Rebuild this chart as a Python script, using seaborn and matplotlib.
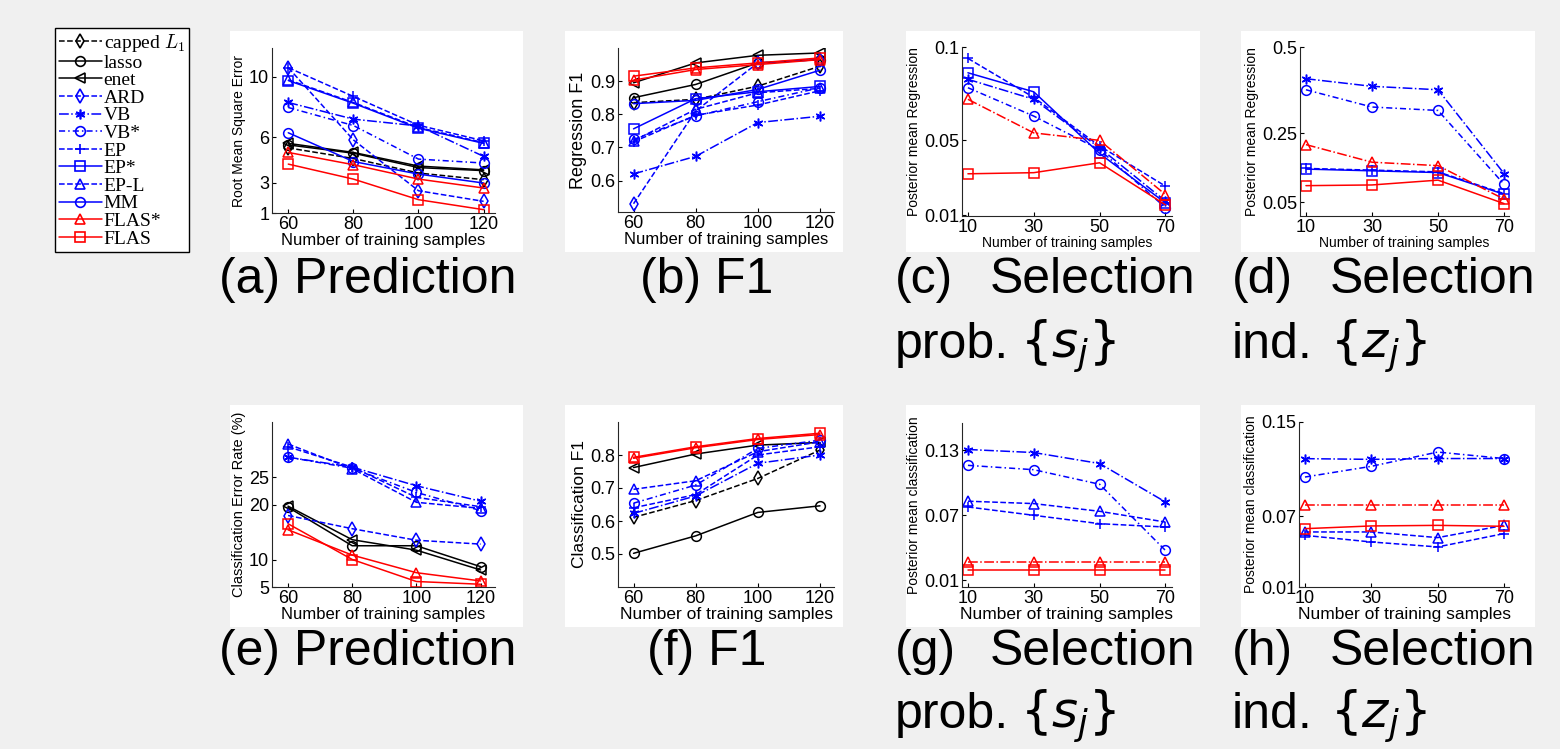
import matplotlib
matplotlib.use('Agg')
import matplotlib.pyplot as plt
from matplotlib.lines import Line2D
from matplotlib.patches import Rectangle
import pandas as pd
import seaborn as sns

sns.set_style('ticks')
plt.rcParams['font.family'] = ['Liberation Sans', 'DejaVu Sans']
plt.rcParams['axes.edgecolor'] = '#262626'
plt.rcParams['text.color'] = 'black'
plt.rcParams['axes.labelcolor'] = 'black'
plt.rcParams['xtick.color'] = 'black'
plt.rcParams['ytick.color'] = 'black'

W, H = 1560, 749

# ---- methods and their look ----
methods = ['capped $L_1$', 'lasso', 'enet', 'ARD', 'VB', 'VB*', 'EP', 'EP*',
           'EP-L', 'MM', 'FLAS*', 'FLAS']
colors = ['black', 'black', 'black', 'blue', 'blue', 'blue', 'blue', 'blue',
          'blue', 'blue', 'red', 'red']
markers = ['d', 'o', '<', 'd', (6, 2, 0), 'o', '+', 's', '^', 'o', '^', 's']
lines = ['--', '-', '-', '--', '-.', (0, (4, 2, 1, 2)), '--', '-', '--', '-', '-', '-']

x_reg = [60, 80, 100, 120]
x_sel = [10, 30, 50, 70]

# ---- (a) regression RMSE ----
rmse = {
    'capped $L_1$': [5.3, 4.6, 3.64, 3.2],
    'lasso': [5.5, 4.95, 4.0, 3.8],
    'enet': [5.6, 5.0, 4.1, 3.85],
    'ARD': [10.6, 5.83, 2.47, 1.77],
    'VB': [8.3, 7.2, 6.75, 4.74],
    'VB*': [7.97, 6.78, 4.56, 4.3],
    'EP': [10.6, 8.7, 6.8, 5.77],
    'EP*': [9.75, 8.25, 6.6, 5.6],
    'EP-L': [9.8, 8.3, 6.65, 5.65],
    'MM': [6.3, 4.4, 3.57, 2.98],
    'FLAS*': [5.0, 4.19, 3.24, 2.65],
    'FLAS': [4.23, 3.24, 1.88, 1.22],
}

# ---- (b) regression F1 ----
reg_f1 = {
    'capped $L_1$': [0.835, 0.845, 0.885, 0.945],
    'lasso': [0.85, 0.89, 0.955, 0.965],
    'enet': [0.895, 0.955, 0.978, 0.985],
    'ARD': [0.53, 0.81, 0.955, 0.965],
    'VB': [0.62, 0.673, 0.775, 0.794],
    'VB*': [0.724, 0.795, 0.838, 0.88],
    'EP': [0.717, 0.797, 0.828, 0.871],
    'EP*': [0.756, 0.847, 0.868, 0.884],
    'EP-L': [0.72, 0.815, 0.865, 0.878],
    'MM': [0.832, 0.842, 0.875, 0.933],
    'FLAS*': [0.903, 0.935, 0.95, 0.965],
    'FLAS': [0.915, 0.94, 0.955, 0.97],
}

# ---- (c) posterior mean of s_j, regression ----
reg_s = {
    'VB': [0.0827, 0.072, 0.046, 0.0175],
    'VB*': [0.0782, 0.063, 0.045, 0.014],
    'EP': [0.0939, 0.073, 0.047, 0.0255],
    'EP*': [0.0862, 0.076, 0.043, 0.0165],
    'FLAS*': [0.072, 0.054, 0.050, 0.021],
    'FLAS': [0.0321, 0.0327, 0.038, 0.0155],
}

# ---- (d) posterior mean of z_j, regression ----
reg_z = {
    'VB': [0.408, 0.386, 0.376, 0.133],
    'VB*': [0.376, 0.326, 0.316, 0.102],
    'EP': [0.148, 0.143, 0.138, 0.075],
    'EP*': [0.146, 0.141, 0.136, 0.073],
    'FLAS*': [0.217, 0.166, 0.156, 0.059],
    'FLAS': [0.098, 0.10, 0.114, 0.046],
}

# ---- (e) classification error rate ----
cls_err = {
    'lasso': [19.5, 12.5, 12.5, 8.7],
    'enet': [19.7, 13.6, 11.7, 8.1],
    'ARD': [18.0, 15.6, 13.5, 12.8],
    'VB': [28.6, 26.8, 23.4, 20.6],
    'VB*': [28.6, 26.6, 22.2, 18.9],
    'EP': [30.5, 26.8, 21.3, 19.6],
    'EP-L': [31.0, 26.5, 20.4, 19.3],
    'FLAS*': [15.4, 10.8, 7.6, 6.1],
    'FLAS': [16.5, 10.0, 6.0, 5.5],
}

# ---- (f) classification F1 ----
cls_f1 = {
    'capped $L_1$': [0.611, 0.662, 0.729, 0.815],
    'lasso': [0.502, 0.555, 0.626, 0.646],
    'enet': [0.762, 0.803, 0.830, 0.838],
    'VB': [0.623, 0.676, 0.775, 0.80],
    'VB*': [0.654, 0.709, 0.82, 0.845],
    'EP': [0.64, 0.68, 0.80, 0.825],
    'EP-L': [0.696, 0.722, 0.81, 0.84],
    'FLAS*': [0.79, 0.822, 0.847, 0.862],
    'FLAS': [0.793, 0.825, 0.85, 0.866],
}

# ---- (g) posterior mean of s_j, classification ----
cls_s = {
    'VB': [0.1306, 0.1278, 0.1177, 0.0823],
    'VB*': [0.116, 0.112, 0.0986, 0.0377],
    'EP': [0.0777, 0.070, 0.0623, 0.0592],
    'EP-L': [0.083, 0.0808, 0.0737, 0.0638],
    'FLAS*': [0.027, 0.027, 0.027, 0.027],
    'FLAS': [0.0198, 0.0198, 0.0198, 0.0198],
}

# ---- (h) posterior mean of z_j, classification ----
cls_z = {
    'VB': [0.1189, 0.1183, 0.119, 0.119],
    'VB*': [0.1033, 0.1124, 0.1245, 0.119],
    'EP': [0.0538, 0.0482, 0.044, 0.0553],
    'EP-L': [0.0567, 0.0567, 0.0519, 0.0623],
    'FLAS*': [0.0799, 0.0799, 0.0799, 0.0799],
    'FLAS': [0.0595, 0.0618, 0.0623, 0.0615],
}

ylabels = ['Root Mean Square Error', 'Regression F1', 'Posterior mean Regression',
           'Posterior mean Regression', 'Classification Error Rate (%)',
           'Classification F1', 'Posterior mean classification',
           'Posterior mean classification']
yticks = [[1, 3, 6, 10], [0.6, 0.7, 0.8, 0.9], [0.01, 0.05, 0.1], [0.05, 0.25, 0.5],
          [5, 10, 20, 25], [0.5, 0.6, 0.7, 0.8], [0.01, 0.07, 0.13], [0.01, 0.07, 0.15]]
ytick_labels = [['1', '3', '6', '10'], ['0.6', '0.7', '0.8', '0.9'],
                ['0.01', '0.05', '0.1'], ['0.05', '0.25', '0.5'],
                ['5', '10', '20', '25'], ['0.5', '0.6', '0.7', '0.8'],
                ['0.01', '0.07', '0.13'], ['0.01', '0.07', '0.15']]

# layout in pixels: axes box (left, top, right, bottom), white card, limits
panels = [
    dict(data=rmse, x=x_reg, ax=(272, 48, 495, 213), card=(230, 31, 523, 252),
         xlim=(55, 123.5), ylim=(1, 11.9), xl=12, yl=10),
    dict(data=reg_f1, x=x_reg, ax=(618, 48, 834, 212), card=(565, 31, 843, 252),
         xlim=(55, 124.5), ylim=(0.505, 1.0), xl=12, yl=13),
    dict(data=reg_s, x=x_sel, ax=(962, 47, 1172, 216), card=(906, 31, 1200, 252),
         xlim=(8.2, 72), ylim=(0.0095, 0.1), xl=10, yl=10),
    dict(data=reg_z, x=x_sel, ax=(1300, 47, 1509, 216), card=(1241, 31, 1535, 252),
         xlim=(8.2, 71.5), ylim=(0.01, 0.5), xl=10, yl=10),
    dict(data=cls_err, x=x_reg, ax=(272, 422, 495, 587), card=(230, 405, 523, 627),
         xlim=(55, 124.5), ylim=(5, 35), xl=12, yl=10.5),
    dict(data=cls_f1, x=x_reg, ax=(618, 422, 834, 587), card=(565, 405, 843, 627),
         xlim=(55, 124.5), ylim=(0.4, 0.9), xl=12.5, yl=12.5),
    dict(data=cls_s, x=x_sel, ax=(962, 423, 1172, 587), card=(906, 405, 1200, 627),
         xlim=(8.2, 72), ylim=(0.004, 0.155), xl=12.5, yl=10),
    dict(data=cls_z, x=x_sel, ax=(1299, 422, 1509, 587), card=(1241, 405, 1535, 627),
         xlim=(8.2, 71.5), ylim=(0.01, 0.15), xl=12.5, yl=10),
]

fig = plt.figure(figsize=(W / 100, H / 100), dpi=100, facecolor='#f0f0f0')

for i, p in enumerate(panels):
    cl, ct, cr, cb = p['card']
    fig.patches.append(Rectangle((cl / W, 1 - cb / H), (cr - cl) / W, (cb - ct) / H,
                                 transform=fig.transFigure, facecolor='white',
                                 edgecolor='none', zorder=-5))
    l, t, r, b = p['ax']
    ax = fig.add_axes([l / W, 1 - b / H, (r - l) / W, (b - t) / H])
    ax.set_facecolor('white')
    for name, ys in p['data'].items():
        k = methods.index(name)
        ls = lines[k]
        if name == 'FLAS*' and i in (2, 3, 6, 7):
            ls = '-.'
        df = pd.DataFrame({'n': p['x'], 'v': ys})
        sns.lineplot(data=df, x='n', y='v', ax=ax, errorbar=None, color=colors[k],
                     linestyle=ls, linewidth=1.1, marker=markers[k], markersize=7,
                     markerfacecolor='none', markeredgecolor=colors[k],
                     markeredgewidth=1.1)
    ax.set_xlim(*p['xlim'])
    ax.set_ylim(*p['ylim'])
    ax.set_xticks(p['x'])
    ax.set_yticks(yticks[i])
    ax.set_yticklabels(ytick_labels[i])
    ax.tick_params(direction='in', length=3, labelsize=13, pad=2)
    ax.set_xlabel('Number of training samples', fontsize=p['xl'], labelpad=0)
    ax.set_ylabel(ylabels[i], fontsize=p['yl'], labelpad=2)
    sns.despine(ax=ax)

# ---- captions ----
cap = 36
single = [('(a) Prediction', 368, 293), ('(b) F1', 707, 293),
          ('(e) Prediction', 368, 665), ('(f) F1', 707, 665)]
for s, x, y in single:
    fig.text(x / W, 1 - y / H, s, ha='center', va='baseline', fontsize=cap)

double = [('(c)', 'prob.', r'$\{s_j\}$', 895, 1195, 1020, 293, 358),
          ('(d)', 'ind.', r'$\{z_j\}$', 1232, 1535, 1330, 293, 358),
          ('(g)', 'prob.', r'$\{s_j\}$', 895, 1195, 1020, 665, 728),
          ('(h)', 'ind.', r'$\{z_j\}$', 1232, 1535, 1330, 665, 728)]
for lab, w2, m, xl, xr, xm, y1, y2 in double:
    fig.text(xl / W, 1 - y1 / H, lab, ha='left', va='baseline', fontsize=cap)
    fig.text(xr / W, 1 - y1 / H, 'Selection', ha='right', va='baseline', fontsize=cap)
    fig.text(xl / W, 1 - y2 / H, w2, ha='left', va='baseline', fontsize=cap)
    fig.text(xm / W, 1 - y2 / H, m, ha='left', va='baseline', fontsize=cap,
             math_fontfamily='dejavusans')

# ---- legend ----
handles = [Line2D([], [], color=colors[k], linestyle=lines[k], marker=markers[k],
                  markersize=7, markerfacecolor='none', markeredgecolor=colors[k],
                  linewidth=1.1, markeredgewidth=1.2) for k in range(len(methods))]
leg = fig.legend(handles, methods, loc='upper left',
                 bbox_to_anchor=(55 / W, 1 - 28 / H), borderaxespad=0,
                 prop={'family': ['Liberation Serif'], 'size': 14},
                 frameon=True, fancybox=False, edgecolor='black', facecolor='white',
                 framealpha=1, handlelength=2.2, handletextpad=0.1,
                 labelspacing=0.0, borderpad=0.2, numpoints=1)
leg.get_frame().set_linewidth(1.0)
for t in leg.get_texts():
    t.set_math_fontfamily('cm')

fig.savefig('out.png', dpi=100, facecolor=fig.get_facecolor())
